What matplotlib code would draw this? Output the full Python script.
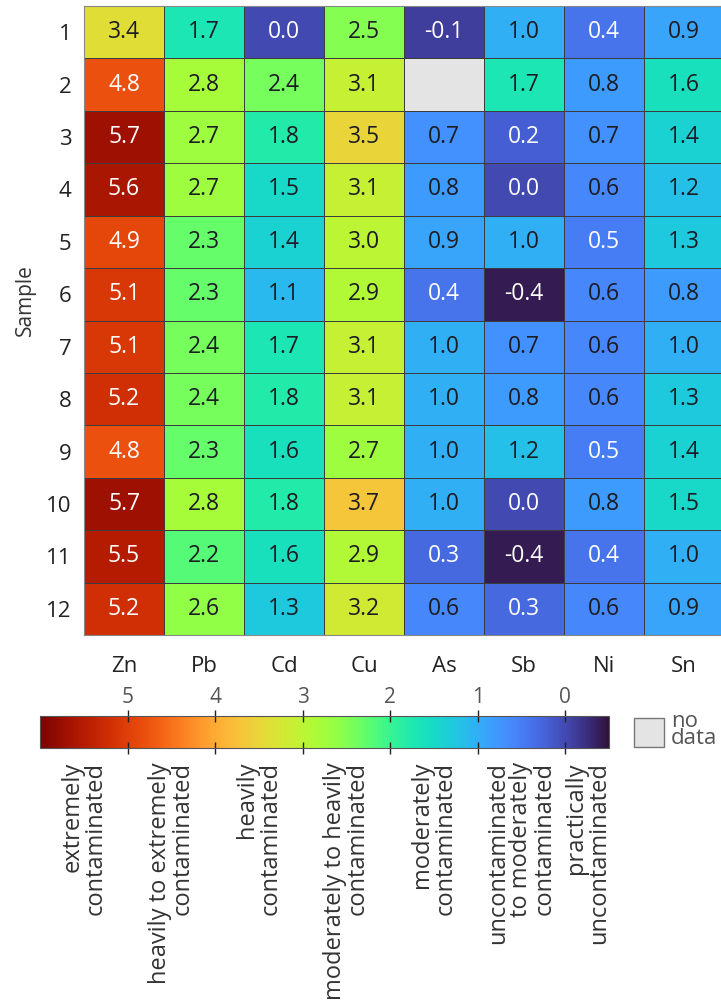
import numpy as np
import matplotlib
matplotlib.use("Agg")
import matplotlib.pyplot as plt
from matplotlib import colors, cm, transforms
from matplotlib.patches import Rectangle

plt.rcParams['font.family'] = ['Open Sans', 'DejaVu Sans']

# geo-accumulation index per sample and element
elements = ["Zn", "Pb", "Cd", "Cu", "As", "Sb", "Ni", "Sn"]
samples = [str(i) for i in range(1, 13)]
zn = [3.4, 4.8, 5.7, 5.6, 4.9, 5.1, 5.1, 5.2, 4.8, 5.7, 5.5, 5.2]
pb = [1.7, 2.8, 2.7, 2.7, 2.3, 2.3, 2.4, 2.4, 2.3, 2.8, 2.2, 2.6]
cd = [0.0, 2.4, 1.8, 1.5, 1.4, 1.1, 1.7, 1.8, 1.6, 1.8, 1.6, 1.3]
cu = [2.5, 3.1, 3.5, 3.1, 3.0, 2.9, 3.1, 3.1, 2.7, 3.7, 2.9, 3.2]
as_ = [-0.1, np.nan, 0.7, 0.8, 0.9, 0.4, 1.0, 1.0, 1.0, 1.0, 0.3, 0.6]
sb = [1.0, 1.7, 0.2, 0.0, 1.0, -0.4, 0.7, 0.8, 1.2, 0.0, -0.4, 0.3]
ni = [0.4, 0.8, 0.7, 0.6, 0.5, 0.6, 0.6, 0.6, 0.5, 0.8, 0.4, 0.6]
sn = [0.9, 1.6, 1.4, 1.2, 1.3, 0.8, 1.0, 1.3, 1.4, 1.5, 1.0, 0.9]

class_ticks = [5, 4, 3, 2, 1, 0]
class_mid = [5.5, 4.5, 3.5, 2.5, 1.5, 0.5, -0.25]
class_names = ["extremely\ncontaminated",
               "heavily to extremely\ncontaminated",
               "heavily\ncontaminated",
               "moderately to heavily\ncontaminated",
               "moderately\ncontaminated",
               "uncontaminated\nto moderately\ncontaminated",
               "practically\nuncontaminated"]

vmin, vmax = -0.5, 6.0
data = np.array([zn, pb, cd, cu, as_, sb, ni, sn]).T
data_m = np.ma.masked_invalid(data)

cmap = matplotlib.colormaps['turbo'].copy()
cmap.set_bad('#e4e4e4')
norm = colors.Normalize(vmin=vmin, vmax=vmax)

W, H = 721, 1007
fig = plt.figure(figsize=(W / 100, H / 100), dpi=100)

ax = fig.add_axes([84 / W, 1 - 635 / H, 640 / W, 629 / H])
ax.pcolormesh(data_m, cmap=cmap, norm=norm, edgecolors='#3c3c3c', linewidth=0.7)
ax.set_xlim(0, len(elements))
ax.set_ylim(len(samples), 0)
for s in ax.spines.values():
    s.set_color('#888888')
    s.set_linewidth(0.8)

for i in range(data.shape[0]):
    for j in range(data.shape[1]):
        v = data[i, j]
        if np.isnan(v):
            continue
        c = 'white' if (v >= 4.5 or v <= 0.5) else '#1c1c24'
        ax.text(j + 0.5, i + 0.5, f"{v:.1f}", ha='center', va='center',
                fontsize=16.5, color=c)

ax.set_xticks(np.arange(len(elements)) + 0.5)
ax.set_xticklabels(elements)
ax.set_yticks(np.arange(len(samples)) + 0.5)
ax.set_yticklabels(samples)
ax.tick_params(length=0, labelsize=16, labelcolor='#222222')
ax.tick_params(axis='x', pad=15)
ax.tick_params(axis='y', pad=9)
fig.text(25 / W, 1 - 300 / H, "Sample", rotation=90, ha='center', va='center',
         fontsize=15, color='#333333')

# colour scale with contamination classes
cax = fig.add_axes([40 / W, 1 - 748 / H, 569 / W, 32 / H])
cb = fig.colorbar(cm.ScalarMappable(norm=norm, cmap=cmap), cax=cax,
                  orientation='horizontal')
cb.outline.set_edgecolor('#555555')
cb.outline.set_linewidth(0.8)
cax.invert_xaxis()
cax.set_xticks(class_ticks)
cax.xaxis.set_ticks_position('both')
cax.tick_params(axis='x', labeltop=True, labelbottom=False, direction='inout',
                length=9, width=1, color='#222222', labelsize=15,
                labelcolor='#555555', pad=1)

tr = transforms.blended_transform_factory(cax.transData, fig.transFigure)
for x, name in zip(class_mid, class_names):
    cax.text(x, 1 - 762 / H, name, transform=tr, rotation=90, ha='center',
             va='top', multialignment='right', fontsize=17, color='#333333',
             linespacing=0.95)

fig.add_artist(Rectangle((634 / W, 1 - 747 / H), 30 / W, 29 / H,
                         transform=fig.transFigure, facecolor='#e4e4e4',
                         edgecolor='#777777', linewidth=1))
fig.text(671 / W, 1 - 730 / H, "no\ndata", ha='left', va='center',
         fontsize=16, color='#555555', linespacing=0.75)

fig.savefig("out.png", dpi=100)
